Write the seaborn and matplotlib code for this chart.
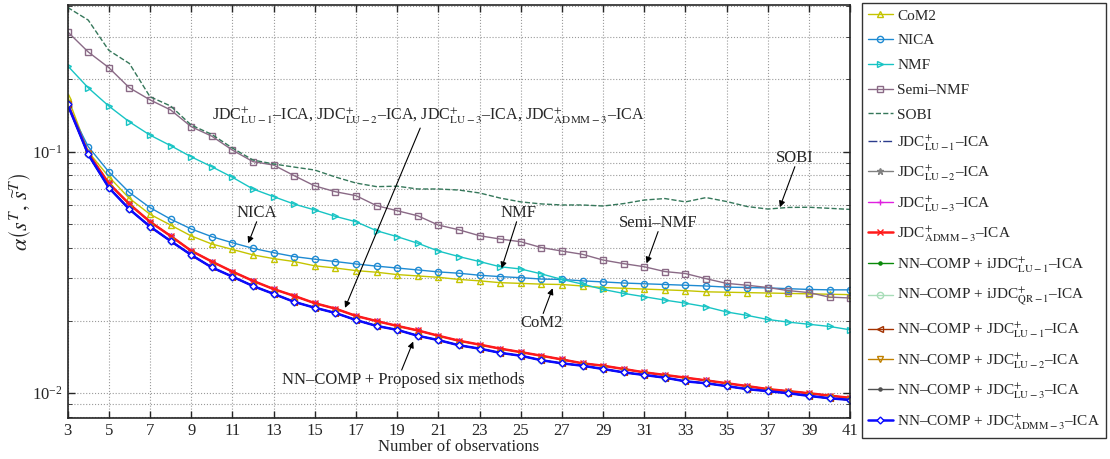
import numpy as np
import pandas as pd
import seaborn as sns
from matplotlib import pyplot as plt
from matplotlib.ticker import FixedLocator, LogLocator, NullFormatter

# observations
obs = list(range(3, 42))

# values (log scale)
com2 = [0.169, 0.100, 0.0788, 0.0641, 0.0551, 0.0497, 0.0448, 0.0415, 0.0394, 0.0374,
        0.0361, 0.0351, 0.0337, 0.0330, 0.0322, 0.0317, 0.0310, 0.0306, 0.0302, 0.0296,
        0.0292, 0.0287, 0.0285, 0.0283, 0.0282, 0.0278, 0.0274, 0.0272, 0.0270, 0.0268,
        0.0266, 0.0263, 0.0262, 0.0261, 0.0260, 0.0259, 0.0258, 0.0257, 0.0256]
nica = [0.155, 0.105, 0.0826, 0.0678, 0.0587, 0.0526, 0.0479, 0.0445, 0.0420, 0.0398,
        0.0382, 0.0368, 0.0359, 0.0351, 0.0343, 0.0336, 0.0330, 0.0324, 0.0318, 0.0314,
        0.0308, 0.0304, 0.0301, 0.0297, 0.0296, 0.0292, 0.0289, 0.0286, 0.0284, 0.0282,
        0.0280, 0.0278, 0.0275, 0.0274, 0.0273, 0.0271, 0.0269, 0.0268, 0.0268]
nmf = [0.227, 0.184, 0.1546, 0.133, 0.1172, 0.106, 0.0953, 0.0867, 0.0784, 0.0701,
       0.0652, 0.0607, 0.0574, 0.0540, 0.0513, 0.0471, 0.0445, 0.0418, 0.0388, 0.0368,
       0.0351, 0.0334, 0.0327, 0.0312, 0.0296, 0.0283, 0.0269, 0.0259, 0.0251, 0.0243,
       0.0236, 0.0228, 0.0217, 0.0210, 0.0202, 0.0197, 0.0193, 0.0189, 0.0183]
semi_nmf = [0.314, 0.259, 0.223, 0.184, 0.164, 0.149, 0.127, 0.116, 0.1016, 0.0910,
            0.0881, 0.0796, 0.0722, 0.0683, 0.0658, 0.0598, 0.0570, 0.0543, 0.0497, 0.0475,
            0.0449, 0.0435, 0.0424, 0.0401, 0.0388, 0.0376, 0.0356, 0.0344, 0.0334, 0.0319,
            0.0313, 0.0298, 0.0285, 0.0280, 0.0274, 0.0266, 0.0261, 0.0250, 0.0248]
sobi = [0.396, 0.351, 0.263, 0.232, 0.169, 0.1547, 0.129, 0.118, 0.1036, 0.0924,
        0.0890, 0.0864, 0.0840, 0.0786, 0.0742, 0.0717, 0.0720, 0.0701, 0.0701, 0.0694,
        0.0675, 0.0643, 0.0620, 0.0608, 0.0602, 0.0602, 0.0596, 0.0610, 0.0631, 0.0640,
        0.0620, 0.0646, 0.0622, 0.0593, 0.0579, 0.0588, 0.0589, 0.0583, 0.0577]
# the four JDC+ methods lie on top of each other
jdc = [0.158, 0.0985, 0.0740, 0.0607, 0.0513, 0.0448, 0.0389, 0.0351, 0.0319, 0.0292,
       0.0270, 0.0253, 0.0236, 0.0224, 0.0209, 0.0199, 0.0190, 0.0182, 0.0173, 0.0165,
       0.0159, 0.0153, 0.0148, 0.0143, 0.0138, 0.0133, 0.0130, 0.0126, 0.0122, 0.0119,
       0.0116, 0.0113, 0.0110, 0.0107, 0.0104, 0.0102, 0.0100, 0.00977, 0.00957]
# the six NN-COMP methods lie on top of each other
nncomp = [0.157, 0.0975, 0.0710, 0.0578, 0.0490, 0.0427, 0.0374, 0.0332, 0.0304, 0.0278,
          0.0258, 0.0239, 0.0226, 0.0215, 0.0201, 0.0190, 0.0183, 0.0173, 0.0166, 0.0158,
          0.0153, 0.0147, 0.0143, 0.0137, 0.0133, 0.0130, 0.0126, 0.0122, 0.0119, 0.0116,
          0.0112, 0.0110, 0.0107, 0.0104, 0.0102, 0.0100, 0.00975, 0.00953, 0.00938]

sns.set_style("ticks")
plt.rcParams['font.family'] = ['Liberation Serif', 'DejaVu Serif']
plt.rcParams['mathtext.fontset'] = 'stix'

fig, ax = plt.subplots(figsize=(11.1, 4.59), dpi=100)
fig.subplots_adjust(left=0.0609, right=0.766, top=0.989, bottom=0.090)

def jl(sub):
    return r"JDC$^{+}_{\mathrm{" + sub + r"}}$–ICA"

series = [
    # label, values, color, marker, linestyle, lw, markerface
    ("CoM2", com2, "#C4C400", "^", "-", 1.0, "none"),
    ("NICA", nica, "#1E8AD2", "o", "-", 1.0, "none"),
    ("NMF", nmf, "#17C4C4", ">", "-", 1.0, "none"),
    ("Semi–NMF", semi_nmf, "#8A6A86", "s", "-", 1.0, "none"),
    ("SOBI", sobi, "#35775A", None, "--", 1.0, "none"),
    (jl("LU-1"), jdc, "#2B3C8C", None, "-.", 1.0, "none"),
    (jl("LU-2"), jdc, "#808080", "*", "-", 1.0, "#808080"),
    (jl("LU-3"), jdc, "#E020E0", "+", "-", 1.0, "#E020E0"),
    (r"JDC$^{+}_{\mathrm{ADMM-3}}$–ICA", jdc, "#FF1A1A", "x", "-", 1.8, "#FF1A1A"),
    (r"NN–COMP + iJDC$^{+}_{\mathrm{LU-1}}$–ICA", nncomp, "#0A8A0A", ".", "-", 1.0, "#0A8A0A"),
    (r"NN–COMP + iJDC$^{+}_{\mathrm{QR-1}}$–ICA", nncomp, "#A8DDB8", "o", "-", 1.0, "none"),
    (r"NN–COMP + JDC$^{+}_{\mathrm{LU-1}}$–ICA", nncomp, "#A33200", "<", "-", 1.0, "none"),
    (r"NN–COMP + JDC$^{+}_{\mathrm{LU-2}}$–ICA", nncomp, "#C08000", "v", "-", 1.0, "none"),
    (r"NN–COMP + JDC$^{+}_{\mathrm{LU-3}}$–ICA", nncomp, "#505050", ".", "-", 1.0, "#505050"),
    (r"NN–COMP + JDC$^{+}_{\mathrm{ADMM-3}}$–ICA", nncomp, "#0A0AFF", "D", "-", 1.8, "white"),
]

for label, vals, color, marker, ls, lw, mfc in series:
    sns.lineplot(x=obs, y=vals, ax=ax, color=color, linestyle=ls, linewidth=lw,
                 marker=marker, markersize=4.5 if marker != "D" else 3.5,
                 markerfacecolor=mfc, markeredgecolor=color, markeredgewidth=1.0,
                 label=label, legend=False)

ax.set_yscale("log")
ax.set_xlim(3, 41)
ax.set_ylim(0.00792, 0.405)
ax.xaxis.set_major_locator(FixedLocator(list(range(3, 42, 2))))
ax.yaxis.set_major_locator(LogLocator(base=10))
ax.yaxis.set_minor_locator(LogLocator(base=10, subs=np.arange(2, 10)))
ax.yaxis.set_minor_formatter(NullFormatter())
ax.tick_params(which="both", direction="in", top=True, right=True, labelsize=12)
ax.tick_params(which="major", length=5, width=1)
ax.tick_params(which="minor", length=3)
ax.grid(True, which="major", linestyle=":", color="#9a9a9a", linewidth=0.8)
ax.grid(True, which="minor", axis="y", linestyle=":", color="#9a9a9a", linewidth=0.8)
for s in ax.spines.values():
    s.set_linewidth(1.2)

ax.set_xlabel("Number of observations", fontsize=12, labelpad=0)
ax.set_ylabel(r"$\alpha\left(s^{T},\,\widetilde{s}^{T}\right)$", fontsize=16)
ax.yaxis.set_label_coords(-0.044, 0.5)

# annotations
arrow = dict(arrowstyle="-|>", color="k", lw=0.8, mutation_scale=9, shrinkA=0, shrinkB=0)
notes = [
    (r"JDC$^{+}_{\mathrm{LU-1}}$–ICA, JDC$^{+}_{\mathrm{LU-2}}$–ICA, JDC$^{+}_{\mathrm{LU-3}}$–ICA, JDC$^{+}_{\mathrm{ADMM-3}}$–ICA",
     (20.5, 0.1406), (20.12, 0.1253), (16.47, 0.02257), 11.5),
    ("NICA", (12.18, 0.0556), (12.18, 0.0513), (11.77, 0.0418), 12),
    ("NMF", (24.88, 0.0556), (24.80, 0.0513), (24.07, 0.0329), 12),
    ("Semi–NMF", (31.67, 0.0506), (31.67, 0.0467), (31.11, 0.0345), 12),
    ("SOBI", (38.31, 0.0939), (38.31, 0.0867), (37.58, 0.0589), 12),
    ("CoM2", (26.01, 0.0195), (26.09, 0.0214), (26.55, 0.0272), 12),
    ("NN–COMP + Proposed six methods", (19.3, 0.01135), (19.22, 0.01248), (19.78, 0.01637), 12),
]
for txt, pos, start, tip, fs in notes:
    ax.text(pos[0], pos[1], txt, ha="center", va="center", fontsize=fs)
    ax.annotate("", xy=tip, xytext=start, arrowprops=arrow)

handles, labels = ax.get_legend_handles_labels()
leg = fig.legend(handles, labels, loc="upper left", bbox_to_anchor=(862 / 1110, 1 - 3 / 459),
                 fontsize=11, frameon=True, fancybox=False, edgecolor="black",
                 handlelength=1.6, handletextpad=0.3, labelspacing=0.72, borderpad=0.4,
                 borderaxespad=0)
leg.get_frame().set_linewidth(1.0)

fig.savefig("out.png", dpi=100)
